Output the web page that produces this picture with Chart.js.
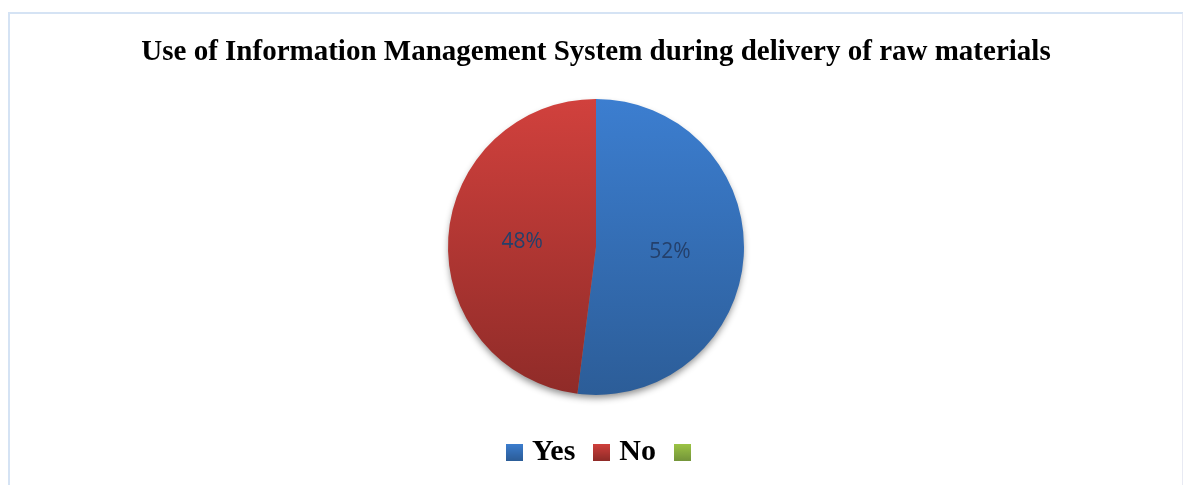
<!DOCTYPE html>
<html>
<head>
<meta charset="utf-8">
<script src="https://cdn.jsdelivr.net/npm/chart.js"></script>
<style>
    body { margin: 0; background: #fff; overflow: hidden; }
    #frame {
        position: absolute; left: 8px; top: 12px; width: 1172px; height: 500px;
        border-top: 2px solid #d5e3f4; border-left: 2px solid #d5e3f4;
        border-right: 2px solid #e8eaf3;
    }
    #use-ims { position: absolute; left: 0; top: 0; }
</style>
</head>
<body>
<div id="frame"></div>
<canvas id="use-ims" width="1183" height="485"></canvas>
<script>
var chartTitle = 'Use of Information Management System during delivery of raw materials';
var categories = ['Yes', 'No', ''];
var percentValues = [52, 48, 0];

// top / bottom colours of the vertical gradient on each slice
var topColors = ['#3c7ed0', '#d1413d', '#9dc545'];
var bottomColors = ['#2c5d98', '#8f2b28', '#74953a'];
var pieRadius = 148;

function legendSwatch(i) {
    var c = document.createElement('canvas');
    c.width = 17;
    c.height = 17;
    var g = c.getContext('2d');
    var grad = g.createLinearGradient(0, 0, 0, 17);
    grad.addColorStop(0, topColors[i]);
    grad.addColorStop(1, bottomColors[i]);
    g.fillStyle = grad;
    g.fillRect(0, 0, 17, 17);
    return c;
}

var pieShadow = {
    id: 'pieShadow',
    afterLayout: function(chart) {
        // excel centres the legend a little further right
        chart.legend.left += 10;
        chart.legend.right += 10;
    },
    beforeDatasetsDraw: function(chart) {
        var arc = chart.getDatasetMeta(0).data[0];
        if (!arc) return;
        var ctx = chart.ctx;
        ctx.save();
        ctx.shadowColor = 'rgba(0, 0, 0, 0.45)';
        ctx.shadowBlur = 7;
        ctx.shadowOffsetY = 4;
        ctx.fillStyle = '#888';
        ctx.beginPath();
        ctx.arc(arc.x, arc.y, arc.outerRadius - 1, 0, Math.PI * 2);
        ctx.fill();
        ctx.restore();
    }
};

var sliceLabels = {
    id: 'sliceLabels',
    afterDatasetsDraw: function(chart) {
        var ctx = chart.ctx;
        ctx.save();
        ctx.font = '21px "Open Sans", sans-serif';
        ctx.fillStyle = '#24406b';
        ctx.textAlign = 'center';
        ctx.textBaseline = 'middle';
        chart.getDatasetMeta(0).data.forEach(function(arc, i) {
            if (!percentValues[i]) return;
            var p = arc.tooltipPosition();
            ctx.fillText(percentValues[i] + '%', p.x, p.y);
        });
        ctx.restore();
    }
};

var ctx = document.getElementById('use-ims');
var useImsChart = new Chart(ctx, {
    type: 'pie',
    data: {
        labels: categories,
        datasets: [
            {
                data: percentValues,
                borderWidth: 0,
                radius: pieRadius,
                backgroundColor: function(context) {
                    var area = context.chart.chartArea;
                    var i = context.dataIndex;
                    if (!area) return topColors[i];
                    var cy = (area.top + area.bottom) / 2;
                    var grad = context.chart.ctx.createLinearGradient(0, cy - pieRadius, 0, cy + pieRadius);
                    grad.addColorStop(0, topColors[i]);
                    grad.addColorStop(1, bottomColors[i]);
                    return grad;
                }
            }
        ]
    },
    options: {
        responsive: false,
        animation: false,
        devicePixelRatio: 1,
        layout: {
            padding: { left: 9, right: 0, top: 0, bottom: 8 }
        },
        plugins: {
            title: {
                display: true,
                text: chartTitle,
                color: '#000',
                font: { family: '"Liberation Serif", "Times New Roman", serif', size: 29, weight: 'bold', lineHeight: 1.2 },
                padding: { top: 35, bottom: 11 }
            },
            legend: {
                position: 'bottom',
                labels: {
                    usePointStyle: true,
                    pointStyleWidth: 5,
                    padding: 24,
                    color: '#000',
                    font: { family: '"Liberation Serif", "Times New Roman", serif', size: 30, weight: 'bold' },
                    generateLabels: function(chart) {
                        return categories.map(function(name, i) {
                            return {
                                text: name,
                                pointStyle: legendSwatch(i),
                                fillStyle: topColors[i],
                                strokeStyle: 'transparent',
                                lineWidth: 0,
                                hidden: false,
                                index: i
                            };
                        });
                    }
                }
            },
            tooltip: { enabled: false }
        }
    },
    plugins: [pieShadow, sliceLabels]
});
</script>
</body>
</html>
